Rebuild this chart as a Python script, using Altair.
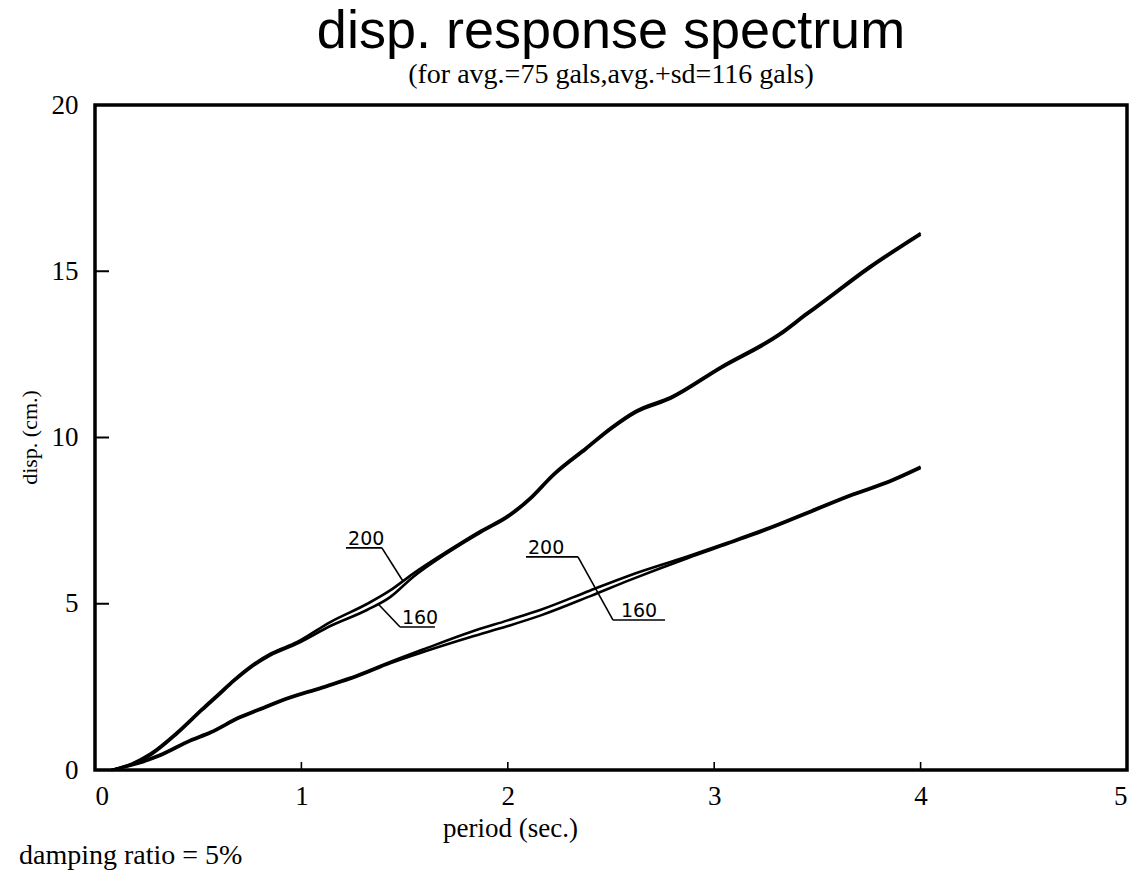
import altair as alt
import pandas as pd

# Displacement response spectra, damping ratio 5 %
# upper pair: avg.+sd = 116 gals, lower pair: avg. = 75 gals
upper_period = [0.08, 0.18, 0.27, 0.40, 0.52, 0.60, 0.67, 0.76, 0.85, 0.98,
                1.14, 1.32, 1.43, 1.54, 1.70, 1.87, 2.00, 2.11, 2.22, 2.38,
                2.50, 2.62, 2.79, 3.03, 3.32, 3.45, 3.51, 3.75, 4.00]
upper_200 = [0.00, 0.20, 0.50, 1.15, 1.85, 2.30, 2.70, 3.15, 3.50, 3.85,
             4.45, 5.00, 5.40, 5.90, 6.55, 7.20, 7.65, 8.20, 8.90, 9.70,
             10.30, 10.80, 11.22, 12.12, 13.14, 13.75, 14.02, 15.13, 16.15]
upper_160 = [0.00, 0.17, 0.45, 1.10, 1.80, 2.25, 2.65, 3.10, 3.45, 3.80,
             4.33, 4.82, 5.20, 5.80, 6.50, 7.15, 7.60, 8.15, 8.85, 9.65,
             10.25, 10.75, 11.17, 12.07, 13.09, 13.70, 13.97, 15.08, 16.10]

lower_period = [0.08, 0.22, 0.31, 0.46, 0.56, 0.70, 0.80, 0.90, 1.10, 1.27,
                1.43, 1.60, 1.82, 2.00, 2.16, 2.40, 2.59, 2.87, 3.07, 3.27,
                3.47, 3.67, 3.85, 4.00]
lower_200 = [0.00, 0.24, 0.45, 0.90, 1.15, 1.60, 1.85, 2.10, 2.50, 2.85,
             3.25, 3.65, 4.15, 4.50, 4.82, 5.40, 5.85, 6.42, 6.85, 7.30,
             7.80, 8.30, 8.70, 9.12]
lower_160 = [0.00, 0.21, 0.41, 0.86, 1.11, 1.56, 1.81, 2.06, 2.46, 2.81,
             3.21, 3.57, 4.00, 4.33, 4.65, 5.23, 5.71, 6.37, 6.81, 7.26,
             7.76, 8.26, 8.66, 9.08]

x_ticks = [1, 2, 3, 4]
y_ticks = [5, 10, 15]

# leader lines for the curve labels (data units)
lead_x1 = [1.216, 1.390, 1.371, 1.478, 2.088, 2.340, 2.510]
lead_y1 = [6.68, 6.68, 5.00, 4.30, 6.41, 6.41, 4.51]
lead_x2 = [1.390, 1.490, 1.478, 1.647, 2.340, 2.510, 2.762]
lead_y2 = [6.68, 5.70, 4.30, 4.30, 6.41, 4.51, 4.51]

label_text = ["200", "160", "200", "160"]
label_x = [1.226, 1.487, 2.098, 2.548]
label_y = [6.68, 4.30, 6.41, 4.51]

rows = []
for name, per, vals in [("avg.+sd 200", upper_period, upper_200),
                        ("avg.+sd 160", upper_period, upper_160),
                        ("avg. 200", lower_period, lower_200),
                        ("avg. 160", lower_period, lower_160)]:
    for i, (p, v) in enumerate(zip(per, vals)):
        rows.append({"series": name, "period": p, "disp": v, "i": i})
curves = pd.DataFrame(rows)

leaders = pd.DataFrame({"x1": lead_x1, "y1": lead_y1, "x2": lead_x2, "y2": lead_y2})
labels = pd.DataFrame({"text": label_text, "x": label_x, "y": label_y})
xt = pd.DataFrame({"t": x_ticks})
yt = pd.DataFrame({"t": y_ticks})

serif = "Liberation Serif"

xscale = alt.Scale(domain=[0, 5], nice=False, zero=False)
yscale = alt.Scale(domain=[0, 20], nice=False, zero=False)

xaxis = alt.Axis(values=[0, 1, 2, 3, 4, 5], format="d", ticks=False, domain=False,
                 grid=False, labelFont=serif, labelFontSize=27, labelColor="black",
                 labelPadding=13, title="period (sec.)", titleFont=serif,
                 titleFontSize=27, titleFontWeight="normal", titleColor="black",
                 titleX=415, titleY=66, titleBaseline="alphabetic", titleAlign="center")
yaxis = alt.Axis(values=[0, 5, 10, 15, 20], format="d", ticks=False, domain=False,
                 grid=False, labelFont=serif, labelFontSize=27, labelColor="black",
                 labelPadding=17, title="disp. (cm.)", titleFont=serif,
                 titleFontSize=22, titleFontWeight="normal", titleColor="black",
                 titleX=-59, titleY=332, titleBaseline="alphabetic", titleAlign="center",
                 titleAngle=270)

lines = alt.Chart(curves).mark_line(color="black", strokeWidth=2.6,
                                    interpolate="monotone").encode(
    x=alt.X("period:Q", scale=xscale, axis=xaxis),
    y=alt.Y("disp:Q", scale=yscale, axis=yaxis),
    detail="series:N",
    order="i:Q",
)

leader_rules = alt.Chart(leaders).mark_rule(color="black", strokeWidth=1.6).encode(
    x=alt.X("x1:Q", scale=xscale), y=alt.Y("y1:Q", scale=yscale),
    x2="x2:Q", y2="y2:Q",
)

label_marks = alt.Chart(labels).mark_text(
    font="DejaVu Sans", fontSize=19, color="black", align="left",
    baseline="alphabetic", dy=-3,
).encode(
    x=alt.X("x:Q", scale=xscale), y=alt.Y("y:Q", scale=yscale), text="text:N",
)

x_tick_marks = alt.Chart(xt).mark_rule(color="black", strokeWidth=1.6).encode(
    x=alt.X("t:Q", scale=xscale), y=alt.value(665), y2=alt.value(657),
)
y_tick_marks = alt.Chart(yt).mark_rule(color="black", strokeWidth=2).encode(
    y=alt.Y("t:Q", scale=yscale), x=alt.value(0), x2=alt.value(14),
)

note = alt.Chart(pd.DataFrame({"note": ["damping ratio = 5%"]})).mark_text(
    font=serif, fontSize=28, color="black", align="left", baseline="alphabetic",
).encode(x=alt.value(-76), y=alt.value(759), text="note:N")

chart = alt.layer(
    x_tick_marks, y_tick_marks, leader_rules, lines, label_marks, note
).properties(
    width=1032,
    height=665,
    padding={"left": 95, "top": 105, "right": 20, "bottom": 111},
    autosize=alt.AutoSizeParams(type="none"),
    background="white",
    title=alt.TitleParams(
        text="disp. response spectrum",
        subtitle="(for avg.=75 gals,avg.+sd=116 gals)",
        font="Liberation Sans", fontSize=54, fontWeight="normal", color="black",
        subtitleFont=serif, subtitleFontSize=28, subtitleColor="black",
        subtitlePadding=2, anchor="middle", frame="group", offset=2,
    ),
).configure_view(
    stroke="black", strokeWidth=3.5
)

chart.save("out.html", embed_options={"renderer": "svg", "actions": False})
